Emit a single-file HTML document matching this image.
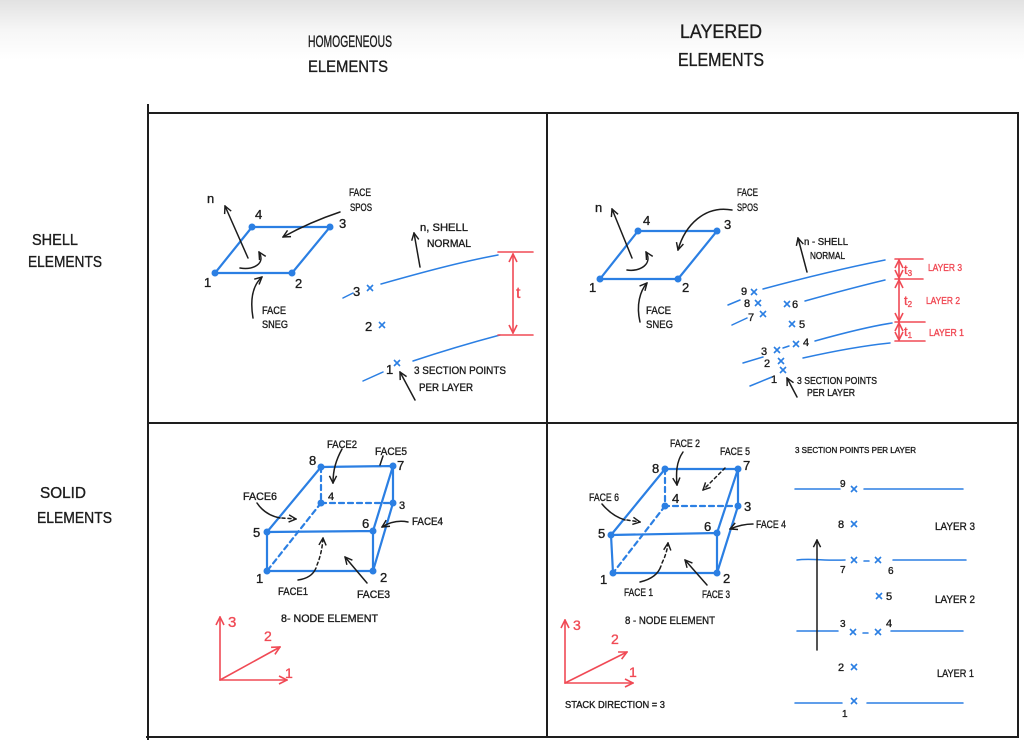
<!DOCTYPE html>
<html><head><meta charset="utf-8"><style>
html,body{margin:0;padding:0;background:#fff;}
svg{display:block;}
text{font-family:"Liberation Sans Narrow","Liberation Sans",sans-serif;fill:#1c1c1c;stroke:#1c1c1c;stroke-width:0.35;}
.h{font-size:17px;}
.s{font-size:11px;}
.n{font-size:13px;}
.r{fill:#f04a55;stroke:#f04a55;}
.b{stroke:#2b7fe3;fill:none;stroke-width:2.2;stroke-linecap:round;}
.bl{stroke:#2b7fe3;fill:none;stroke-width:1.5;stroke-linecap:round;}
.d{stroke-dasharray:5 4;}
.k{stroke:#1c1c1c;fill:none;stroke-width:1.5;stroke-linecap:round;}
.rd{stroke:#f04a55;fill:none;stroke-width:1.6;stroke-linecap:round;}
.f{stroke:#1e1e1e;stroke-width:2;fill:none;}
</style></head><body>
<svg width="1024" height="752" viewBox="0 0 1024 752" xmlns="http://www.w3.org/2000/svg">
<defs>
<linearGradient id="g" x1="0" y1="0" x2="0" y2="1">
<stop offset="0" stop-color="#e2e2e2"/><stop offset="0.5" stop-color="#f6f6f6"/><stop offset="1" stop-color="#ffffff"/>
</linearGradient>
<marker id="ab" viewBox="0 0 10 10" refX="9" refY="5" markerWidth="9" markerHeight="9" orient="auto-start-reverse" markerUnits="userSpaceOnUse"><path d="M1 1L9 5L1 9" fill="none" stroke="#1c1c1c" stroke-width="1.6"/></marker>
<marker id="ar" viewBox="0 0 10 10" refX="9" refY="5" markerWidth="10" markerHeight="10" orient="auto-start-reverse" markerUnits="userSpaceOnUse"><path d="M1 1L9 5L1 9" fill="none" stroke="#f04a55" stroke-width="1.6"/></marker>
<path id="cx" d="M-3 -3L3 3M3 -3L-3 3" stroke="#2b7fe3" stroke-width="1.6" fill="none"/>
</defs>
<rect width="1024" height="752" fill="#fff"/>
<rect width="1024" height="60" fill="url(#g)"/>

<!-- frame -->
<path class="f" d="M148 104V740M147 113H1019M1018 113V737M547 113V737M148 423H1019M146 737H1019"/>

<!-- headers -->
<text class="h" x="308" y="47" textLength="84" lengthAdjust="spacingAndGlyphs">HOMOGENEOUS</text>
<text class="h" x="308" y="72" textLength="80" lengthAdjust="spacingAndGlyphs">ELEMENTS</text>
<text x="680" y="38" style="font-size:19px" textLength="82" lengthAdjust="spacingAndGlyphs">LAYERED</text>
<text x="678" y="66" style="font-size:18px" textLength="86" lengthAdjust="spacingAndGlyphs">ELEMENTS</text>
<text x="32" y="245" style="font-size:16px" textLength="46" lengthAdjust="spacingAndGlyphs">SHELL</text>
<text x="28" y="267" style="font-size:16px" textLength="74" lengthAdjust="spacingAndGlyphs">ELEMENTS</text>
<text x="40" y="498" style="font-size:16px" textLength="46" lengthAdjust="spacingAndGlyphs">SOLID</text>
<text x="37" y="523" style="font-size:16px" textLength="75" lengthAdjust="spacingAndGlyphs">ELEMENTS</text>

<!-- ===== top-left ===== -->
<polygon class="b" points="215,273 292,273 330,227 252,227"/>
<g fill="#2b7fe3"><circle cx="215" cy="273" r="3.5"/><circle cx="292" cy="273" r="3.5"/><circle cx="330" cy="227" r="3.5"/><circle cx="252" cy="227" r="3.5"/></g>
<text class="n" x="207" y="203">n</text>
<text class="n" x="255" y="219">4</text>
<text class="n" x="339" y="228">3</text>
<text class="n" x="204" y="287">1</text>
<text class="n" x="295" y="288">2</text>
<path class="k" d="M248 258L225 206" marker-end="url(#ab)"/>
<path class="k" d="M240 268C253 270 266 264 259 252" marker-end="url(#ab)"/>
<path class="k" d="M340 212Q310 222 283 237" marker-end="url(#ab)"/>
<path class="k" d="M253 318C250 300 252 286 262 277" marker-end="url(#ab)"/>
<text class="s" x="349" y="196" textLength="22" lengthAdjust="spacingAndGlyphs">FACE</text>
<text class="s" x="350" y="211" textLength="22" lengthAdjust="spacingAndGlyphs">SPOS</text>
<text class="s" x="262" y="314" textLength="24" lengthAdjust="spacingAndGlyphs">FACE</text>
<text class="s" x="262" y="328" textLength="26" lengthAdjust="spacingAndGlyphs">SNEG</text>
<path class="bl" d="M343 298L353 293M381 284C420 273 460 262 498 255"/>
<path class="bl" d="M363 381L383 372M413 361C440 352 470 343 500 335"/>
<text class="n" x="353" y="296">3</text><use href="#cx" x="370" y="288"/>
<text class="n" x="365" y="331">2</text><use href="#cx" x="382" y="325"/>
<text class="n" x="386" y="374">1</text><use href="#cx" x="397" y="363"/>
<path class="k" d="M420 267L414 233" marker-end="url(#ab)"/>
<text class="s" x="420" y="231" textLength="48" lengthAdjust="spacingAndGlyphs">n, SHELL</text>
<text class="s" x="427" y="247" textLength="44" lengthAdjust="spacingAndGlyphs">NORMAL</text>
<path class="k" d="M415 400L400 372" marker-end="url(#ab)"/>
<text class="s" x="414" y="374" textLength="92" lengthAdjust="spacingAndGlyphs">3 SECTION POINTS</text>
<text class="s" x="419" y="391" textLength="54" lengthAdjust="spacingAndGlyphs">PER LAYER</text>
<path class="rd" d="M498 252H533M498 335H533"/>
<path class="rd" d="M513 254V333" marker-start="url(#ar)" marker-end="url(#ar)"/>
<text class="r" x="516" y="298" style="font-size:16px">t</text>

<!-- ===== top-right ===== -->
<polygon class="b" points="600,279 678,279 717,231 638,231"/>
<g fill="#2b7fe3"><circle cx="600" cy="279" r="3.5"/><circle cx="678" cy="279" r="3.5"/><circle cx="717" cy="231" r="3.5"/><circle cx="638" cy="231" r="3.5"/></g>
<text class="n" x="595" y="212">n</text>
<text class="n" x="643" y="225">4</text>
<text class="n" x="724" y="229">3</text>
<text class="n" x="589" y="292">1</text>
<text class="n" x="682" y="292">2</text>
<path class="k" d="M632 258L612 209" marker-end="url(#ab)"/>
<path class="k" d="M627 270C640 272 653 264 646 252" marker-end="url(#ab)"/>
<path class="k" d="M732 210C705 205 685 225 678 250" marker-end="url(#ab)"/>
<path class="k" d="M640 322C636 305 640 291 647 283" marker-end="url(#ab)"/>
<text class="s" x="737" y="196" textLength="21" lengthAdjust="spacingAndGlyphs">FACE</text>
<text class="s" x="737" y="211" textLength="21" lengthAdjust="spacingAndGlyphs">SPOS</text>
<text class="s" x="646" y="314" textLength="25" lengthAdjust="spacingAndGlyphs">FACE</text>
<text class="s" x="646" y="328" textLength="27" lengthAdjust="spacingAndGlyphs">SNEG</text>
<path class="k" d="M807 272L798 238" marker-end="url(#ab)"/>
<text x="804" y="245" style="font-size:10px" textLength="44" lengthAdjust="spacingAndGlyphs">n - SHELL</text>
<text x="810" y="259" style="font-size:10px" textLength="35" lengthAdjust="spacingAndGlyphs">NORMAL</text>
<path class="bl" d="M763 289C800 279 845 268 885 260"/>
<path class="bl" d="M728 305L740 300M805 301C830 294 860 286 885 280"/>
<path class="bl" d="M732 325L747 318M815 341C840 334 866 327 892 323"/>
<path class="bl" d="M743 363L763 357M803 358C830 352 860 346 890 343"/>
<path class="bl" d="M750 386L772 377"/>
<text x="741" y="295" style="font-size:11px">9</text><use href="#cx" x="754" y="292"/>
<text x="744" y="307" style="font-size:11px">8</text><use href="#cx" x="758" y="303"/>
<text x="748" y="321" style="font-size:11px">7</text><use href="#cx" x="763" y="314"/>
<use href="#cx" x="787" y="304"/><text x="792" y="308" style="font-size:11px">6</text>
<use href="#cx" x="792" y="324"/><text x="799" y="328" style="font-size:11px">5</text>
<text x="761" y="355" style="font-size:11px">3</text><use href="#cx" x="777" y="350"/><path class="bl" d="M783 348L789 346"/><use href="#cx" x="796" y="344"/><text x="803" y="346" style="font-size:11px">4</text>
<text x="764" y="367" style="font-size:11px">2</text><use href="#cx" x="781" y="361"/>
<text x="771" y="383" style="font-size:11px">1</text><use href="#cx" x="783" y="370"/>
<path class="k" d="M797 397L787 378" marker-end="url(#ab)"/>
<text x="797" y="384" style="font-size:10px" textLength="80" lengthAdjust="spacingAndGlyphs">3 SECTION POINTS</text>
<text x="807" y="396" style="font-size:10px" textLength="48" lengthAdjust="spacingAndGlyphs">PER LAYER</text>
<path class="rd" d="M895 259H923M895 279H923M895 322H925M895 341H925"/>
<path class="rd" d="M899 260V278" marker-start="url(#ar)" marker-end="url(#ar)"/>
<path class="rd" d="M899 280V321" marker-start="url(#ar)" marker-end="url(#ar)"/>
<path class="rd" d="M899 323V340" marker-start="url(#ar)" marker-end="url(#ar)"/>
<text class="r" x="904" y="274" style="font-size:13px">t<tspan style="font-size:8px" dy="2">3</tspan></text>
<text class="r" x="904" y="305" style="font-size:13px">t<tspan style="font-size:8px" dy="2">2</tspan></text>
<text class="r" x="904" y="336" style="font-size:13px">t<tspan style="font-size:8px" dy="2">1</tspan></text>
<text class="r" x="928" y="271" style="font-size:10px" textLength="34" lengthAdjust="spacingAndGlyphs">LAYER 3</text>
<text class="r" x="926" y="304" style="font-size:10px" textLength="34" lengthAdjust="spacingAndGlyphs">LAYER 2</text>
<text class="r" x="929" y="336" style="font-size:10px" textLength="35" lengthAdjust="spacingAndGlyphs">LAYER 1</text>

<!-- ===== bottom-left ===== -->
<path class="b" d="M267 532L321 467L393 466L373 531M393 466L393 503L373 571M267 532L373 531L373 571L267 571L267 532"/>
<path class="b d" d="M321 467L321 503L393 503M321 503L267 571"/>
<g fill="#2b7fe3"><circle cx="321" cy="467" r="3.5"/><circle cx="393" cy="466" r="3.5"/><circle cx="321" cy="503" r="3.5"/><circle cx="393" cy="503" r="3.5"/><circle cx="267" cy="532" r="3.5"/><circle cx="373" cy="531" r="3.5"/><circle cx="267" cy="571" r="3.5"/><circle cx="373" cy="571" r="3.5"/></g>
<text class="n" x="309" y="465">8</text>
<text class="n" x="397" y="470">7</text>
<text class="s" x="328" y="500">4</text>
<text class="s" x="399" y="509">3</text>
<text class="n" x="253" y="537">5</text>
<text class="n" x="362" y="528">6</text>
<text class="n" x="256" y="583">1</text>
<text class="n" x="380" y="582">2</text>
<text class="s" x="327" y="448" textLength="30" lengthAdjust="spacingAndGlyphs">FACE2</text>
<text class="s" x="375" y="455" textLength="32" lengthAdjust="spacingAndGlyphs">FACE5</text>
<text class="s" x="243" y="500" textLength="34" lengthAdjust="spacingAndGlyphs">FACE6</text>
<text class="s" x="412" y="525" textLength="31" lengthAdjust="spacingAndGlyphs">FACE4</text>
<text class="s" x="278" y="595" textLength="30" lengthAdjust="spacingAndGlyphs">FACE1</text>
<text class="s" x="357" y="598" textLength="33" lengthAdjust="spacingAndGlyphs">FACE3</text>
<path class="k" d="M342 449C336 460 333 470 333 483" marker-end="url(#ab)"/>
<path class="k" d="M383 456L380 465"/>
<path class="k" d="M257 503Q265 515 280 518"/><path class="k" style="stroke-dasharray:3 3" d="M282 518L296 519" marker-end="url(#ab)"/>
<path class="k" d="M408 522C398 520 390 522 382 527" marker-end="url(#ab)"/>
<path class="k" d="M298 580Q312 578 316 568"/><path class="k" style="stroke-dasharray:3 3" d="M317 565Q322 553 323 538" marker-end="url(#ab)"/>
<path class="k" d="M367 583L345 557" marker-end="url(#ab)"/>
<text class="s" x="281" y="622" textLength="97" lengthAdjust="spacingAndGlyphs">8- NODE ELEMENT</text>
<path class="rd" d="M220 680V617" marker-end="url(#ar)"/>
<path class="rd" d="M220 680H287" marker-end="url(#ar)"/>
<path class="rd" d="M220 680L280 647" marker-end="url(#ar)"/>
<text class="r" x="228" y="627" style="font-size:15px">3</text>
<text class="r" x="264" y="641" style="font-size:14px">2</text>
<text class="r" x="285" y="678" style="font-size:14px">1</text>

<!-- ===== bottom-right ===== -->
<path class="b" d="M611 535L665 469L738 469L717 533M738 469L738 506L717 573M611 535L717 533L717 573L613 573L611 535"/>
<path class="b d" d="M665 469L665 506L738 506M665 506L613 573"/>
<g fill="#2b7fe3"><circle cx="665" cy="469" r="3.5"/><circle cx="738" cy="469" r="3.5"/><circle cx="665" cy="506" r="3.5"/><circle cx="738" cy="506" r="3.5"/><circle cx="611" cy="535" r="3.5"/><circle cx="717" cy="533" r="3.5"/><circle cx="613" cy="573" r="3.5"/><circle cx="717" cy="573" r="3.5"/></g>
<text class="n" x="652" y="473">8</text>
<text class="n" x="743" y="470">7</text>
<text class="n" x="672" y="503">4</text>
<text class="n" x="744" y="511">3</text>
<text class="n" x="598" y="538">5</text>
<text class="n" x="704" y="531">6</text>
<text class="n" x="600" y="584">1</text>
<text class="n" x="723" y="583">2</text>
<text class="s" x="670" y="447" textLength="30" lengthAdjust="spacingAndGlyphs">FACE 2</text>
<text class="s" x="720" y="455" textLength="30" lengthAdjust="spacingAndGlyphs">FACE 5</text>
<text class="s" x="589" y="501" textLength="30" lengthAdjust="spacingAndGlyphs">FACE 6</text>
<text class="s" x="756" y="528" textLength="30" lengthAdjust="spacingAndGlyphs">FACE 4</text>
<text class="s" x="624" y="596" textLength="29" lengthAdjust="spacingAndGlyphs">FACE 1</text>
<text class="s" x="702" y="598" textLength="28" lengthAdjust="spacingAndGlyphs">FACE 3</text>
<path class="k" d="M683 452C676 462 676 474 677 485" marker-end="url(#ab)"/>
<path class="k" style="stroke-dasharray:3 3" d="M725 468L703 490" marker-end="url(#ab)"/>
<path class="k" d="M602 504Q612 516 625 520"/><path class="k" style="stroke-dasharray:3 3" d="M627 520L640 522" marker-end="url(#ab)"/>
<path class="k" d="M753 524C745 524 737 526 730 529" marker-end="url(#ab)"/>
<path class="k" d="M640 582Q657 578 661 566"/><path class="k" style="stroke-dasharray:3 3" d="M662 563Q667 553 668 543" marker-end="url(#ab)"/>
<path class="k" d="M707 585L685 560" marker-end="url(#ab)"/>
<text class="s" x="625" y="624" textLength="90" lengthAdjust="spacingAndGlyphs">8 - NODE ELEMENT</text>
<path class="rd" d="M565 683V620" marker-end="url(#ar)"/>
<path class="rd" d="M565 683L627 652" marker-end="url(#ar)"/>
<path class="rd" d="M565 683H633" marker-end="url(#ar)"/>
<text class="r" x="573" y="630" style="font-size:14px">3</text>
<text class="r" x="611" y="644" style="font-size:14px">2</text>
<text class="r" x="629" y="677" style="font-size:14px">1</text>
<text x="565" y="708" style="font-size:10px" textLength="100" lengthAdjust="spacingAndGlyphs">STACK DIRECTION = 3</text>

<!-- stack diagram -->
<text x="795" y="453" style="font-size:8.5px" textLength="121" lengthAdjust="spacingAndGlyphs">3 SECTION POINTS PER LAYER</text>
<path class="bl" d="M795 489H840M864 489H963"/>
<path class="bl" d="M797 560C810 558 825 561 845 560M893 560H966"/>
<path class="bl" d="M797 631H838M891 631H963"/>
<path class="bl" d="M795 703H842M867 703H963"/>
<path class="k" d="M817 650V540" marker-end="url(#ab)"/>
<text x="840" y="487" style="font-size:10px">9</text><use href="#cx" x="854" y="489"/>
<text class="s" x="838" y="528">8</text><use href="#cx" x="854" y="524"/>
<text class="s" x="935" y="530" textLength="40" lengthAdjust="spacingAndGlyphs">LAYER 3</text>
<text x="840" y="573" style="font-size:10px">7</text><use href="#cx" x="854" y="560"/><path class="bl" d="M864 561H869"/><use href="#cx" x="878" y="560"/><text x="888" y="574" style="font-size:10px">6</text>
<use href="#cx" x="879" y="596"/><text class="s" x="886" y="600">5</text>
<text class="s" x="935" y="603" textLength="40" lengthAdjust="spacingAndGlyphs">LAYER 2</text>
<text x="840" y="627" style="font-size:10px">3</text><use href="#cx" x="853" y="632"/><path class="bl" d="M863 633H868"/><use href="#cx" x="878" y="632"/><text class="s" x="886" y="627">4</text>
<text class="s" x="838" y="671">2</text><use href="#cx" x="854" y="667"/>
<text class="s" x="937" y="677" textLength="37" lengthAdjust="spacingAndGlyphs">LAYER 1</text>
<text x="842" y="717" style="font-size:10px">1</text><use href="#cx" x="854" y="701"/>
</svg>
</body></html>
